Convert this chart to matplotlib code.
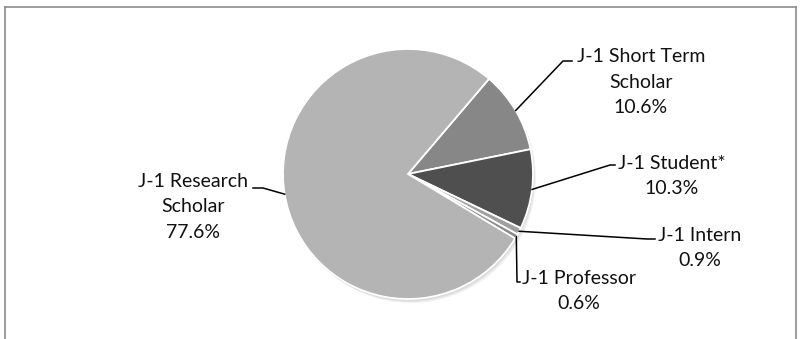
import numpy as np
import matplotlib
matplotlib.use("Agg")
import matplotlib.pyplot as plt
from matplotlib.lines import Line2D
from matplotlib.patches import Circle

labels = ["J-1 Short Term\nScholar", "J-1 Student*", "J-1 Intern", "J-1 Professor", "J-1 Research\nScholar"]
values = [10.6, 10.3, 0.9, 0.6, 77.6]
colors = ["#878787", "#4f4f4f", "#a0a0a0", "#8a8a8a", "#b4b4b4"]

# label layout (pixel coords, y measured from top)
text_pos = [(641, 82), (672, 176), (700, 248), (579, 291), (193, 207)]
elbows = [[(563, 61), (572, 61)],
          [(610, 165), (615, 165)],
          [(647, 239), (655, 239)],
          [(517, 282), (520, 282)],
          [(263, 188), (253, 188)]]

W, H = 800, 339
fig = plt.figure(figsize=(W / 100, H / 100), dpi=100)
ax = fig.add_axes([0, 0, 1, 1])
ax.set_xlim(0, W)
ax.set_ylim(0, H)
ax.set_aspect("equal")
ax.axis("off")

cx, cy, r = 408, H - 174, 125

# soft shadow
for i, a in enumerate([0.05, 0.05, 0.05]):
    ax.add_patch(Circle((cx + 1 + i, cy - 2 - i), r, color="black", alpha=a, lw=0, zorder=0))

wedges, _ = ax.pie(values, colors=colors, startangle=49.6, counterclock=False,
                   center=(cx, cy), radius=r, frame=True,
                   wedgeprops=dict(edgecolor="white", linewidth=1.3))
ax.set_xlim(0, W)
ax.set_ylim(0, H)
ax.axis("off")

for w, lab, v, tp, el in zip(wedges, labels, values, text_pos, elbows):
    mid = np.deg2rad((w.theta1 + w.theta2) / 2)
    ax0 = cx + r * np.cos(mid)
    ay0 = cy + r * np.sin(mid)
    xs = [ax0] + [p[0] for p in el]
    ys = [ay0] + [H - p[1] for p in el]
    ax.plot(xs, ys, color="black", lw=1.1, zorder=5)
    ax.text(tp[0], H - tp[1], f"{lab}\n{v:.1f}%", ha="center", va="center",
            fontsize=14, family=["Lato", "DejaVu Sans"], color="#111111",
            linespacing=1.58)

# chart frame
fc = "#8c8c8c"
fig.add_artist(Line2D([5 / W, 796 / W], [1 - 7 / H, 1 - 7 / H], color=fc, lw=1.2))
fig.add_artist(Line2D([5 / W, 5 / W], [0, 1 - 7 / H], color=fc, lw=1.2))
fig.add_artist(Line2D([796 / W, 796 / W], [0, 1 - 7 / H], color=fc, lw=1.2))

fig.savefig("out.png", dpi=100, facecolor="white")
